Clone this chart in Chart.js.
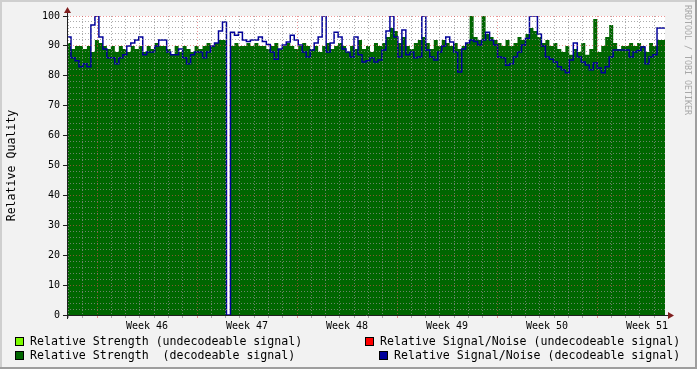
<!DOCTYPE html>
<html>
<head>
<meta charset="utf-8">
<script src="https://cdn.jsdelivr.net/npm/chart.js@4.4.1/dist/chart.umd.min.js"></script>
<style>
  body { margin: 0; background: #f2f2f2; }
  #wrap { position: relative; width: 697px; height: 369px; font-family: "DejaVu Sans Mono", monospace; }
  #myChart { position: absolute; left: 0; top: 0; }
  .leg { position: absolute; font-size: 11.6px; line-height: 14px; white-space: pre; color: #000; }
  .box { position: absolute; width: 7px; height: 7px; border: 1px solid #000; }
  #mark { position: absolute; left: 683px; top: 5px; writing-mode: vertical-rl; font-size: 8.3px; line-height: 10px; color: #a8a8a8; white-space: pre; }
</style>
</head>
<body>
<div id="wrap">
  <canvas id="myChart" width="697" height="369"></canvas>
  <div class="box" style="left:15px;top:337px;background:#7cfc00"></div>
  <div class="leg" style="left:30px;top:334px">Relative Strength (undecodeable signal)</div>
  <div class="box" style="left:15px;top:351px;background:#006600"></div>
  <div class="leg" style="left:30px;top:348px">Relative Strength  (decodeable signal)</div>
  <div class="box" style="left:365px;top:337px;background:#ff0000"></div>
  <div class="leg" style="left:380px;top:334px">Relative Signal/Noise (undecodeable signal)</div>
  <div class="box" style="left:379px;top:351px;background:#000099"></div>
  <div class="leg" style="left:394px;top:348px">Relative Signal/Noise (decodeable signal)</div>
  <div id="mark">RRDTOOL / TOBI OETIKER</div>
</div>
<script>
// days counted from the start of week 46
var firstWeek = 46
var xMin = -2.1
var xMax = 39.76

// relative strength (decodeable signal), one value per ~6.7 h
var strength = [
  88, 91, 89, 90, 90, 89, 90, 88, 92, 91, 90, 89, 90, 88, 90, 89, 88, 90, 89, 90, 88, 90, 89, 91, 90,
  90, 89, 87, 90, 88, 90, 89, 88, 90, 89, 90, 91, 90, 91, 92, 92,
  0,
  90, 91, 90, 90, 91, 90, 91, 90, 90, 89, 90, 91, 89, 90, 91, 90, 89, 90, 91, 90, 89, 90, 88, 90, 91, 89, 90, 91, 90, 88, 90, 89, 92,
  89, 90, 88, 91, 90, 91, 93, 96, 95, 91, 93, 90, 89, 91, 92, 93, 91, 89, 92, 90, 92, 91, 90, 91, 89,
  90, 91, 100, 93, 92, 100, 94, 93, 92, 91, 90, 92, 90, 91, 93, 92, 94, 96, 95, 93, 91, 92, 90, 91, 89,
  88, 90, 87, 89, 88, 91, 87, 89, 99, 88, 90, 93, 97, 91, 89, 90, 90, 91, 90, 91, 90, 88, 91, 90, 92
]

// relative signal/noise (decodeable signal)
var snr = [
  85, 93, 86, 85, 83, 84, 83, 97, 100, 93,
  89, 86, 86, 84, 86, 87, 90, 91, 92, 93,
  87, 88, 88, 90, 92, 92, 88, 87, 87, 89,
  86, 84, 87, 88, 88, 86, 88, 90, 91, 95,
  98, 0, 94.6, 93.6, 94.6, 92, 91.5, 92, 92, 93,
  91.5, 90.5, 88, 85.5, 89, 90.3, 91.3, 93.6, 92, 90.3,
  88, 86.3, 88.6, 91, 93, 100, 88, 91, 94.6, 93,
  89, 88, 86.3, 93, 87, 84.6, 85, 86, 84.6, 85.3,
  88.6, 95, 100, 93, 86.3, 95.3, 87, 88, 86, 86.3,
  100, 88.6, 86.3, 85.3, 88, 90, 93, 91.3, 88, 81.3,
  89, 91, 92, 91.5, 90.3, 92, 94.6, 92, 90.3, 86.3,
  86, 83.5, 84, 86.3, 88, 90.3, 92.6, 100, 100, 94,
  90, 86.3, 85.5, 84.6, 83, 82, 81, 85.3, 91, 86.3,
  84.6, 83.6, 82, 84.3, 82.6, 81, 83, 86.3, 88.6, 88.6,
  88.6, 88.6, 86.3, 88, 88.5, 89.6, 84, 86.3, 87, 96
]

var yTicks = [0, 10, 20, 30, 40, 50, 60, 70, 80, 90, 100]

var gridCol = "rgba(143,143,143,0.75)"
var mgridCol = "rgba(222,79,79,0.6)"
var font = "DejaVu Sans Mono"

function steps(vals) {
  var dt = (xMax - xMin) / vals.length
  var pts = vals.map(function (v, i) { return { x: xMin + i * dt, y: v } })
  pts.push({ x: xMax, y: vals[vals.length - 1] })
  return pts
}

var rrdFrame = {
  id: "rrdFrame",
  beforeDraw: function (chart) {
    var c = chart.ctx, a = chart.chartArea, w = chart.width, h = chart.height
    c.save()
    c.fillStyle = "#f2f2f2"
    c.fillRect(0, 0, w, h)
    c.fillStyle = "#cfcfcf"
    c.fillRect(0, 0, w, 2)
    c.fillRect(0, 0, 2, h)
    c.fillStyle = "#9e9e9e"
    c.fillRect(0, h - 2, w, 2)
    c.fillRect(w - 2, 0, 2, h)
    c.fillStyle = "#ffffff"
    c.fillRect(a.left, a.top, a.right - a.left, a.bottom - a.top)
    c.restore()
  },
  afterDraw: function (chart) {
    var c = chart.ctx, a = chart.chartArea
    c.save()
    c.strokeStyle = "#1f1f1f"
    c.lineWidth = 1
    c.beginPath()
    c.moveTo(a.left - 4, a.bottom + 0.5)
    c.lineTo(a.right + 5, a.bottom + 0.5)
    c.moveTo(a.left + 0.5, a.bottom + 4)
    c.lineTo(a.left + 0.5, a.top - 5)
    c.stroke()
    c.fillStyle = "#801f1f"
    c.beginPath()
    c.moveTo(a.right + 3, a.bottom - 3)
    c.lineTo(a.right + 9, a.bottom + 0.5)
    c.lineTo(a.right + 3, a.bottom + 4)
    c.fill()
    c.beginPath()
    c.moveTo(a.left - 3, a.top - 3)
    c.lineTo(a.left + 0.5, a.top - 9)
    c.lineTo(a.left + 4, a.top - 3)
    c.fill()
    c.restore()
  }
}

var ctx = document.getElementById("myChart").getContext("2d")
var chart = new Chart(ctx, {
  type: "line",
  data: {
    datasets: [
      {
        label: "Relative Signal/Noise (decodeable signal)",
        data: steps(snr),
        borderColor: "#000099",
        borderWidth: 1.5,
        pointRadius: 0,
        stepped: "after",
        fill: false
      },
      {
        label: "Relative Strength  (decodeable signal)",
        data: steps(strength),
        borderWidth: 0,
        borderColor: "rgba(0,0,0,0)",
        backgroundColor: "#006600",
        pointRadius: 0,
        stepped: "after",
        fill: "origin"
      }
    ]
  },
  options: {
    responsive: false,
    animation: false,
    devicePixelRatio: 1,
    layout: { padding: { top: 16, right: 32, left: 0, bottom: 0 } },
    plugins: { legend: { display: false }, tooltip: { enabled: false } },
    scales: {
      x: {
        type: "linear",
        min: xMin,
        max: xMax,
        afterFit: function (s) { s.height = 54 },
        afterBuildTicks: function (s) {
          var t = []
          for (var d = Math.ceil(xMin); d <= xMax; d++) t.push({ value: d })
          for (var k = 0; 3.5 + 7 * k < xMax; k++) t.push({ value: 3.5 + 7 * k })
          t.sort(function (p, q) { return p.value - q.value })
          s.ticks = t
        },
        ticks: {
          autoSkip: false,
          maxRotation: 0,
          padding: 2,
          color: "#000",
          font: { family: font, size: 10 },
          callback: function (v) {
            if (v % 1 !== 0) return "Week " + (firstWeek + Math.floor(v / 7))
            return ""
          }
        },
        grid: {
          z: 1,
          lineWidth: 1,
          tickLength: 3,
          tickBorderDash: [],
          color: function (c) {
            var v = c.tick ? c.tick.value : 0
            if (v % 1 !== 0) return "rgba(0,0,0,0)"
            return v % 7 === 0 ? mgridCol : gridCol
          },
          tickColor: function (c) {
            var v = c.tick ? c.tick.value : 0
            if (v % 1 !== 0) return "rgba(0,0,0,0)"
            return v % 7 === 0 ? mgridCol : gridCol
          }
        },
        border: { display: false, dash: [1, 2] }
      },
      y: {
        min: 0,
        max: 100,
        afterFit: function (s) { s.width = 67 },
        ticks: {
          stepSize: 2,
          autoSkip: false,
          padding: 3,
          color: "#000",
          font: { family: font, size: 10 },
          callback: function (v) { return yTicks.indexOf(v) >= 0 ? v : "" }
        },
        grid: {
          z: 1,
          lineWidth: 1,
          tickLength: 4,
          tickBorderDash: [],
          color: function (c) {
            var v = c.tick ? c.tick.value : 0
            return yTicks.indexOf(v) >= 0 ? mgridCol : gridCol
          },
          tickColor: function (c) {
            var v = c.tick ? c.tick.value : 0
            return yTicks.indexOf(v) >= 0 ? "#1f1f1f" : "rgba(0,0,0,0)"
          }
        },
        border: { display: false, dash: [1, 2] },
        title: {
          display: true,
          text: "Relative Quality",
          color: "#000",
          font: { family: font, size: 11.6 },
          padding: { top: 5, bottom: 0 }
        }
      }
    }
  },
  plugins: [rrdFrame]
})
</script>
</body>
</html>
